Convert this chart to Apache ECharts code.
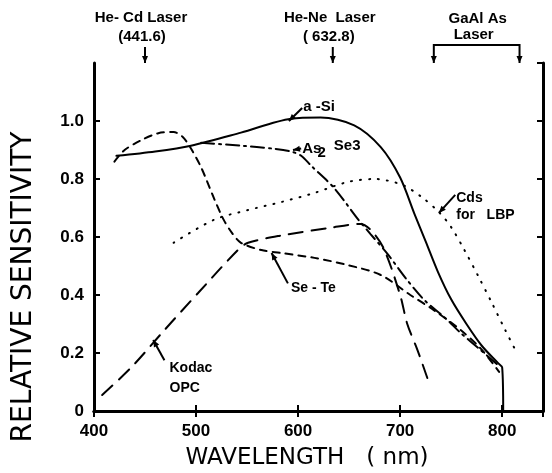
<!DOCTYPE html>
<html>
<head>
<meta charset="utf-8">
<script src="https://cdn.jsdelivr.net/npm/echarts@6/dist/echarts.min.js"></script>
<style>
  html, body { margin: 0; padding: 0; background: #fff; }
  #chart { width: 552px; height: 473px; }
</style>
</head>
<body>
<div id="chart"></div>
<script>
// wavelength (nm) / relative sensitivity
const aSiWave = [422, 460, 495, 544, 593, 622, 655, 681, 700, 714, 725, 737, 750, 765, 780, 796, 800, 801];
const aSiSens = [0.88, 0.895, 0.915, 0.96, 1.008, 1.012, 0.985, 0.91, 0.805, 0.68, 0.585, 0.48, 0.385, 0.30, 0.225, 0.165, 0.15, 0.0];

const as2se3Wave = [505, 544, 575, 593, 603, 613, 635, 659, 671, 688, 705, 723, 746, 759, 779, 797];
const as2se3Sens = [0.925, 0.915, 0.905, 0.895, 0.88, 0.845, 0.77, 0.66, 0.61, 0.54, 0.46, 0.385, 0.315, 0.27, 0.21, 0.155];

const seTeWave = [420, 430, 447, 463, 478, 487, 495, 505, 518, 527, 535, 544, 564, 583, 616, 649, 681, 710, 733, 759, 779, 797];
const seTeSens = [0.86, 0.90, 0.935, 0.958, 0.962, 0.945, 0.905, 0.84, 0.73, 0.66, 0.615, 0.58, 0.555, 0.545, 0.528, 0.503, 0.469, 0.40, 0.348, 0.28, 0.215, 0.135];

const kodacWave = [408, 437, 469, 502, 541, 551, 583, 632, 661, 671, 684, 700, 707, 717, 728];
const kodacSens = [0.055, 0.152, 0.279, 0.407, 0.555, 0.58, 0.605, 0.632, 0.645, 0.625, 0.56, 0.40, 0.30, 0.21, 0.10];

const cdsWave = [478, 518, 551, 583, 616, 649, 675, 702, 721, 738, 750, 763, 777, 790, 803, 814];
const cdsSens = [0.58, 0.66, 0.693, 0.72, 0.752, 0.79, 0.80, 0.78, 0.738, 0.686, 0.634, 0.555, 0.462, 0.372, 0.279, 0.203];

const xTicks = [400, 500, 600, 700, 800];
const yTicks = [0, 0.2, 0.4, 0.6, 0.8, 1.0];

const zip = (xs, ys) => xs.map((x, i) => [x, ys[i]]);

const font = "'Liberation Sans'";
const titleFont = "'DejaVu Sans'";
const black = "#000";

var chart = echarts.init(document.getElementById("chart"), null, { renderer: "canvas" });

function curve(name, wave, sens, dash) {
  return {
    name: name,
    type: "line",
    data: zip(wave, sens),
    showSymbol: false,
    smooth: 0.3,
    silent: true,
    lineStyle: { color: black, width: 2, type: dash, cap: "round" },
  };
}

const frameAxis = {
  axisLine: { lineStyle: { color: black, width: 3 } },
  axisTick: { inside: true, length: 6, lineStyle: { color: black, width: 2 } },
  splitLine: { show: false },
};

let option = {
  animation: false,
  backgroundColor: "#fff",
  grid: { left: 94, right: 9, top: 63, bottom: 62 },
  xAxis: [
    {
      ...frameAxis,
      type: "value",
      min: 400,
      max: 840,
      interval: 100,
      axisLabel: {
        margin: 12,
        color: black,
        fontFamily: font,
        fontWeight: "bold",
        fontSize: 17,
        showMaxLabel: false,
        formatter: (v) => (xTicks.indexOf(v) >= 0 ? String(v) : ""),
      },
    },
    {
      ...frameAxis,
      type: "value",
      position: "top",
      min: 400,
      max: 840,
      interval: 100,
      axisLabel: { show: false },
    },
  ],
  yAxis: [
    {
      ...frameAxis,
      type: "value",
      min: 0,
      max: 1.2,
      interval: 0.2,
      axisLabel: {
        margin: 10,
        color: black,
        fontFamily: font,
        fontWeight: "bold",
        fontSize: 17,
        showMaxLabel: false,
        formatter: (v) => {
          let t = yTicks.find((y) => Math.abs(y - v) < 1e-6);
          if (t === undefined) return "";
          return t === 0 ? "0" : t.toFixed(1);
        },
      },
    },
    {
      ...frameAxis,
      type: "value",
      position: "right",
      min: 0,
      max: 1.2,
      interval: 0.2,
      axisLabel: { show: false },
    },
  ],
  series: [
    curve("a-Si", aSiWave, aSiSens, "solid"),
    curve("As2Se3", as2se3Wave, as2se3Sens, [13, 5, 2, 5]),
    curve("Se-Te", seTeWave, seTeSens, [7, 6]),
    curve("Kodac OPC", kodacWave, kodacSens, [14, 9]),
    curve("Cds for LBP", cdsWave, cdsSens, [1, 8]),
  ],
};

chart.setOption(option);

// annotations, placed in data coordinates
const px = (x, y) => chart.convertToPixel({ xAxisIndex: 0, yAxisIndex: 0 }, [x, y]);
const txt = (s, x, y, size, align, weight, fam) => ({
  type: "text",
  x: x,
  y: y,
  style: {
    text: s,
    fill: black,
    font: (weight || "bold") + " " + (size || 15) + "px " + (fam || font),
    align: align || "center",
    verticalAlign: "middle",
  },
});
const seg = (a, b) => ({
  type: "line",
  shape: { x1: a[0], y1: a[1], x2: b[0], y2: b[1] },
  style: { stroke: black, lineWidth: 2 },
});
function arrowHead(tip, from, len) {
  let dx = tip[0] - from[0], dy = tip[1] - from[1];
  let d = Math.sqrt(dx * dx + dy * dy);
  let ux = dx / d, uy = dy / d;
  let l = len || 7, w = 3;
  let bx = tip[0] - ux * l, by = tip[1] - uy * l;
  return {
    type: "polygon",
    shape: { points: [tip, [bx - uy * w, by + ux * w], [bx + uy * w, by - ux * w]] },
    style: { fill: black },
  };
}
function pointer(tip, from) {
  return [seg(from, tip), arrowHead(tip, from)];
}
const at = (x, y, dx, dy) => { let p = px(x, y); return [p[0] + (dx || 0), p[1] + (dy || 0)]; };

let g = [];
let frameTop = px(400, 1.2)[1];

// axis titles
g.push({
  type: "text",
  x: 24,
  y: 287,
  rotation: Math.PI / 2,
  style: { text: "RELATIVE SENSITIVITY", fill: black, font: "28px " + titleFont, align: "center", verticalAlign: "middle" },
});
g.push(txt("WAVELENGTH   ( nm)", 307, 458, 23, "center", "normal", titleFont));

// lasers above the frame
let heCd = px(450, 1.2)[0];
g.push(txt("He- Cd Laser", heCd - 4, 18), txt("(441.6)", heCd - 3, 37));
g.push(seg([heCd, 47], [heCd, frameTop]), arrowHead([heCd, frameTop], [heCd, 47]));
let heNe = px(634, 1.2)[0];
g.push(txt("He-Ne  Laser", heNe - 3, 18), txt("( 632.8)", heNe - 4, 37));
g.push(seg([heNe, 47], [heNe, frameTop]), arrowHead([heNe, frameTop], [heNe, 47]));
let ga1 = px(733, 1.2)[0], ga2 = px(817, 1.2)[0];
g.push(txt("GaAl As", (ga1 + ga2) / 2 + 1, 19), txt("Laser", (ga1 + ga2) / 2 - 3, 35));
g.push(seg([ga1, 45], [ga2, 45]), seg([ga1, 44], [ga1, frameTop]), seg([ga2, 44], [ga2, frameTop]));
g.push(arrowHead([ga1, frameTop], [ga1, 45]), arrowHead([ga2, frameTop], [ga2, 45]));

// curve labels
g.push(...pointer(at(591, 1.0), at(604, 1.045)), txt("a -Si", ...at(605, 1.05), 15, "left"));
g.push(...pointer(at(595, 0.9), at(603, 0.905)));
g.push(txt("As", ...at(604, 0.905), 15, "left"));
g.push(txt("2", ...at(619, 0.89), 15, "left"));
g.push(txt("Se3", ...at(635, 0.915), 15, "left"));
g.push(...pointer(at(738, 0.683), at(754, 0.745)));
g.push(txt("Cds", ...at(755, 0.735), 14, "left"));
g.push(txt("for   LBP", ...at(755, 0.675), 14, "left"));
g.push(...pointer(at(574, 0.545), at(590, 0.44)));
g.push(txt("Se - Te", ...at(593, 0.425), 14, "left"));
g.push(...pointer(at(458, 0.245), at(469, 0.175)));
g.push(txt("Kodac", ...at(474, 0.165, 0, 5), 14, "left"));
g.push(txt("OPC", ...at(474, 0.095, 0, 5), 14, "left"));

chart.setOption({ graphic: g });
</script>
</body>
</html>
